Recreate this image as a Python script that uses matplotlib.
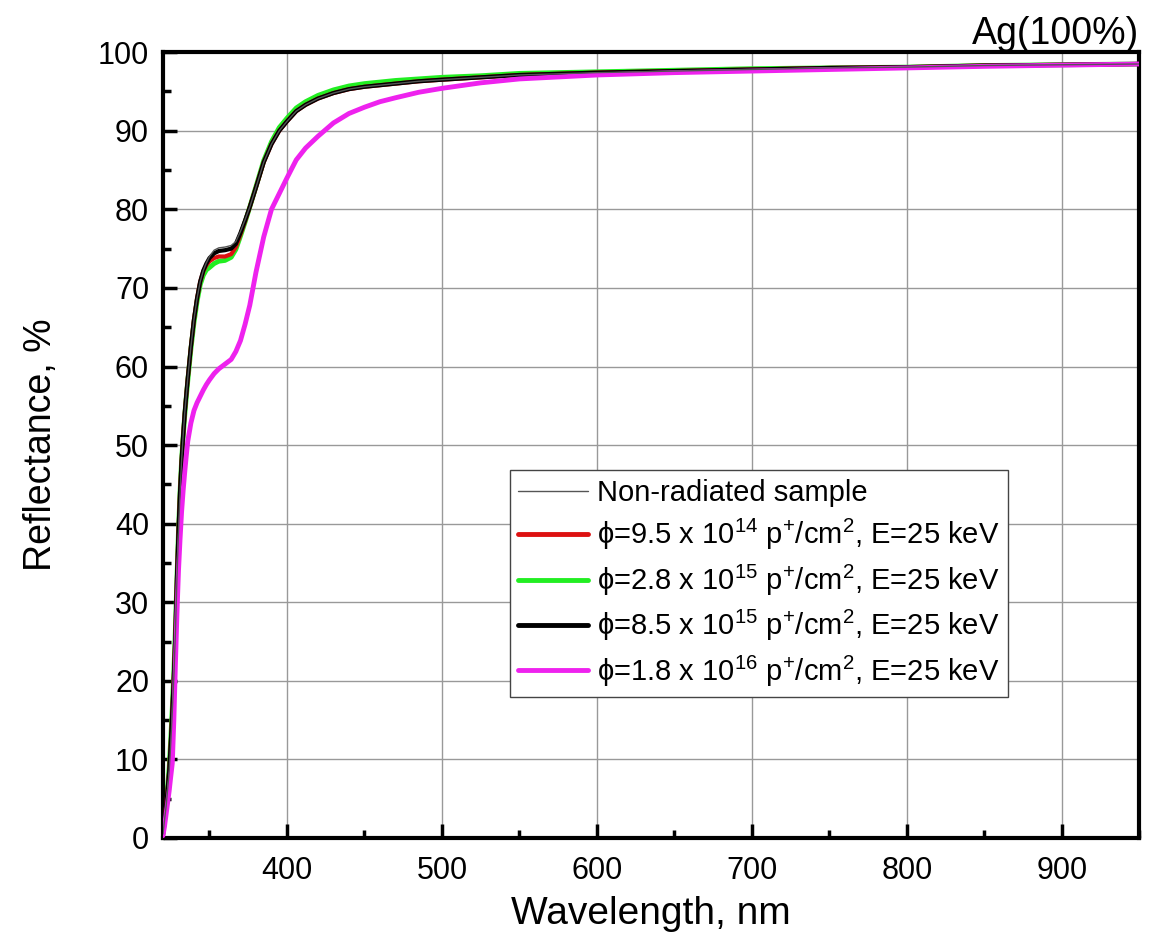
import numpy as np
import matplotlib
matplotlib.use("Agg")
import matplotlib.pyplot as plt
from matplotlib.ticker import MultipleLocator

plt.rcParams['font.family'] = ['Liberation Sans', 'DejaVu Sans']
plt.rcParams['mathtext.fontset'] = 'custom'
plt.rcParams['mathtext.rm'] = 'Liberation Sans'
plt.rcParams['mathtext.it'] = 'Liberation Sans:italic'
plt.rcParams['mathtext.bf'] = 'Liberation Sans:bold'

# wavelength, nm
wl = [320, 321, 322, 323, 324, 325, 326, 327, 328, 329, 330, 331, 332, 333, 334, 335, 336,
      338, 340, 342, 344, 346, 348, 350,
      353, 356, 360, 364, 367, 370, 373, 376, 380,
      385, 390, 395, 400, 406, 412, 420, 430, 440, 450, 460, 470, 485, 500, 525, 550,
      600, 650, 700, 750, 800, 850, 900, 950]

# reflectance, %
r_ref = [0.5, 2.3, 4.0, 6.2, 8.5, 12.0, 16.0, 20.5, 26.0, 33.0, 39.0, 44.0, 48.0, 51.2, 54.0, 56.3, 58.5,
         62.5, 66.0, 68.7, 70.8, 72.2, 73.2, 74.0,
         74.8, 75.1, 75.2, 75.4, 75.9, 77.2, 78.7, 80.3, 82.8,
         86.0, 88.3, 90.0, 91.2, 92.5, 93.3, 94.1, 94.8, 95.3, 95.6, 95.8, 96.0, 96.3, 96.5, 96.8, 97.1,
         97.4, 97.6, 97.8, 98.0, 98.1, 98.3, 98.4, 98.5]
r_95e14 = [0.5, 2.3, 4.0, 6.2, 8.5, 12.0, 16.0, 20.5, 26.0, 33.0, 39.0, 44.0, 48.0, 51.2, 54.0, 56.3, 58.5,
           62.5, 66.0, 68.7, 70.8, 72.1, 72.9, 73.4,
           73.8, 74.0, 74.0, 74.3, 75.2, 76.8, 78.5, 80.3, 82.8,
           86.0, 88.3, 90.0, 91.2, 92.5, 93.3, 94.1, 94.8, 95.3, 95.6, 95.8, 96.0, 96.3, 96.5, 96.8, 97.1,
           97.4, 97.6, 97.8, 98.0, 98.1, 98.3, 98.4, 98.5]
r_28e15 = [0.5, 2.4, 4.2, 6.5, 9.0, 12.5, 16.5, 21.0, 26.5, 33.0, 39.0, 44.0, 48.0, 51.0, 53.7, 56.0, 58.2,
           62.2, 65.6, 68.3, 70.4, 71.6, 72.3, 72.6,
           73.1, 73.4, 73.5, 73.9, 74.9, 76.6, 78.4, 80.3, 82.9,
           86.2, 88.6, 90.4, 91.6, 92.9, 93.7, 94.5, 95.2, 95.7, 96.0, 96.2, 96.4, 96.6, 96.8, 97.0, 97.3,
           97.5, 97.7, 97.9, 98.0, 98.1, 98.3, 98.4, 98.5]
r_85e15 = [0.5, 2.3, 4.0, 6.2, 8.5, 12.0, 16.0, 20.5, 26.0, 33.0, 39.0, 44.0, 48.0, 51.2, 54.0, 56.3, 58.5,
           62.5, 66.0, 68.7, 70.8, 72.2, 73.1, 73.8,
           74.4, 74.7, 74.8, 75.0, 75.6, 77.0, 78.6, 80.3, 82.8,
           86.0, 88.3, 90.0, 91.2, 92.5, 93.3, 94.1, 94.8, 95.3, 95.6, 95.8, 96.0, 96.3, 96.5, 96.8, 97.1,
           97.4, 97.6, 97.8, 98.0, 98.1, 98.3, 98.4, 98.5]
r_18e16 = [0.3, 1.5, 3.0, 4.5, 6.0, 7.8, 9.5, 15.0, 22.0, 28.5, 34.0, 38.0, 41.5, 44.2, 46.5, 48.6, 50.5,
           52.8, 54.4, 55.4, 56.2, 57.0, 57.7, 58.3,
           59.1, 59.7, 60.3, 60.9, 61.9, 63.3, 65.4, 67.8, 72.0,
           76.5, 80.0, 82.0, 84.0, 86.3, 87.8, 89.3, 91.0, 92.2, 93.0, 93.7, 94.2, 94.9, 95.4, 96.1, 96.6,
           97.1, 97.4, 97.6, 97.8, 98.0, 98.2, 98.35, 98.5]

labels = [
    'Non-radiated sample',
    'ϕ=9.5 x 10$^{14}$ p$^{+}$/cm$^{2}$, E=25 keV',
    'ϕ=2.8 x 10$^{15}$ p$^{+}$/cm$^{2}$, E=25 keV',
    'ϕ=8.5 x 10$^{15}$ p$^{+}$/cm$^{2}$, E=25 keV',
    'ϕ=1.8 x 10$^{16}$ p$^{+}$/cm$^{2}$, E=25 keV',
]

fig = plt.figure(figsize=(11.51, 9.49), dpi=100)
ax = fig.add_axes([0.1416, 0.117, 0.8484, 0.828])

kw = dict(solid_joinstyle='round', solid_capstyle='round')
ax.plot(wl, r_ref, color='#555555', lw=1.0, label=labels[0], zorder=6, **kw)
ax.plot(wl, r_95e14, color='#dd1111', lw=3, label=labels[1], zorder=3, **kw)
ax.plot(wl, r_28e15, color='#22ee22', lw=3.5, label=labels[2], zorder=2, **kw)
ax.plot(wl, r_85e15, color='black', lw=3, label=labels[3], zorder=4, **kw)
ax.plot(wl, r_18e16, color='#ee22ee', lw=3.5, label=labels[4], zorder=5, **kw)

ax.set_xlim(320, 950)
ax.set_ylim(0, 100)
ax.xaxis.set_major_locator(MultipleLocator(100))
ax.xaxis.set_minor_locator(MultipleLocator(50))
ax.yaxis.set_major_locator(MultipleLocator(10))
ax.yaxis.set_minor_locator(MultipleLocator(5))
ax.grid(True, which='major', color='#999999', lw=1.0)
ax.set_axisbelow(True)

for s in ax.spines.values():
    s.set_linewidth(3)
ax.tick_params(which='major', direction='in', length=10, width=2.5, labelsize=22, pad=13)
ax.tick_params(which='minor', direction='in', length=6, width=2.5)
ax.tick_params(top=False, right=False, which='both')
ax.tick_params(axis='y', pad=10)

ax.set_xlabel('Wavelength, nm', fontsize=28, labelpad=7)
ax.set_ylabel('Reflectance, %', fontsize=27, labelpad=28)
ax.set_title('Ag(100%)', fontsize=27, loc='right', pad=2)

leg = ax.legend(loc='upper left', bbox_to_anchor=(0.355, 0.468), fontsize=21,
                frameon=True, fancybox=False, borderaxespad=0, handlelength=2.4,
                handletextpad=0.3, labelspacing=0.35, borderpad=0.3)
leg.get_frame().set_edgecolor('#444444')
leg.get_frame().set_linewidth(1.0)
leg.get_frame().set_alpha(1)
for line in leg.get_lines()[1:]:
    line.set_linewidth(3.5)

fig.savefig('out.png', dpi=100)
